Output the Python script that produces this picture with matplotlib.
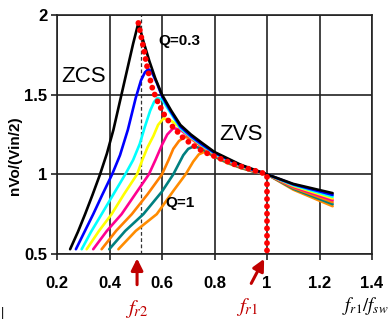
import matplotlib
matplotlib.use("Agg")
import matplotlib.pyplot as plt

plt.rcParams['font.family'] = ['Liberation Sans', 'DejaVu Sans']
plt.rcParams['mathtext.fontset'] = 'stix'

# ---- data ----
q03_x = [0.25,0.28,0.307,0.335,0.364,0.39,0.415,0.44,0.465,0.49,0.51,0.53,0.552,0.575,0.60,0.635,0.67,0.71,0.75,0.80,0.85,0.90,0.95,1.00,1.10,1.25]
q03_y = [0.53,0.64,0.75,0.87,1.00,1.13,1.28,1.46,1.64,1.82,1.95,1.83,1.71,1.60,1.50,1.40,1.31,1.25,1.20,1.14,1.10,1.06,1.03,1.00,0.94,0.882]

q04_x = [0.272,0.305,0.338,0.372,0.41,0.44,0.47,0.50,0.52,0.535,0.548,0.56,0.58,0.60,0.635,0.67,0.71,0.75,0.80,0.85,0.90,0.95,1.00,1.10,1.25]
q04_y = [0.53,0.64,0.75,0.87,1.00,1.12,1.28,1.48,1.59,1.64,1.66,1.645,1.575,1.49,1.39,1.30,1.24,1.19,1.135,1.095,1.057,1.027,1.00,0.937,0.871]

q05_x = [0.294,0.33,0.37,0.415,0.46,0.49,0.515,0.535,0.555,0.57,0.583,0.60,0.635,0.67,0.71,0.75,0.80,0.85,0.90,0.95,1.00,1.10,1.25]
q05_y = [0.53,0.64,0.75,0.875,1.00,1.09,1.19,1.30,1.40,1.455,1.48,1.47,1.38,1.29,1.235,1.185,1.13,1.09,1.054,1.025,1.00,0.933,0.86]

q06_x = [0.313,0.36,0.408,0.455,0.505,0.525,0.545,0.567,0.585,0.605,0.625,0.65,0.68,0.71,0.75,0.80,0.85,0.90,0.95,1.00,1.10,1.25]
q06_y = [0.53,0.645,0.75,0.875,1.00,1.09,1.17,1.24,1.31,1.35,1.345,1.32,1.275,1.232,1.182,1.128,1.087,1.051,1.023,1.00,0.928,0.849]

q07_x = [0.338,0.39,0.446,0.50,0.55,0.575,0.60,0.62,0.643,0.67,0.71,0.75,0.80,0.85,0.90,0.95,1.00,1.10,1.25]
q07_y = [0.53,0.645,0.75,0.88,1.00,1.09,1.185,1.25,1.29,1.28,1.228,1.178,1.124,1.084,1.049,1.021,1.00,0.922,0.838]

q08_x = [0.37,0.425,0.485,0.545,0.60,0.625,0.643,0.665,0.688,0.71,0.75,0.80,0.85,0.90,0.95,1.00,1.10,1.25]
q08_y = [0.53,0.645,0.75,0.875,1.00,1.09,1.16,1.21,1.235,1.225,1.174,1.12,1.08,1.046,1.02,1.00,0.916,0.826]

q09_x = [0.399,0.46,0.529,0.60,0.643,0.681,0.70,0.72,0.75,0.80,0.85,0.90,0.95,1.00,1.10,1.25]
q09_y = [0.53,0.645,0.75,0.892,1.00,1.12,1.16,1.175,1.163,1.113,1.074,1.042,1.017,1.00,0.91,0.813]

q10_x = [0.434,0.50,0.58,0.60,0.645,0.69,0.719,0.74,0.764,0.80,0.85,0.90,0.95,1.00,1.10,1.25]
q10_y = [0.53,0.645,0.75,0.796,0.90,1.00,1.08,1.125,1.143,1.11,1.07,1.04,1.016,1.00,0.904,0.80]

curve_colors = ['#000000', '#0000FF', '#00FFFF', '#FFFF00', '#FF0090', '#FF8000', '#008080', '#FF8C00']

peak_x = [0.51,0.53,0.545,0.565,0.585,0.61,0.64,0.68,0.72,0.76,0.82,0.88,0.94,1.00,1.00]
peak_y = [1.95,1.79,1.66,1.53,1.45,1.37,1.30,1.23,1.18,1.14,1.10,1.06,1.03,1.00,0.50]

fr2_x = 0.52
fr2_tick = 0.505
fr1_x = 1.0

x_ticks = [0.2, 0.4, 0.6, 0.8, 1.0, 1.2, 1.4]
x_tick_labels = ['0.2', '0.4', '0.6', '0.8', '1', '1.2', '1.4']
y_ticks = [0.5, 1.0, 1.5, 2.0]
y_tick_labels = ['0.5', '1', '1.5', '2']

# ---- figure ----
fig = plt.figure(figsize=(3.88, 3.20), dpi=100)
ax = fig.add_axes([57/388, 1-254/320, (372-57)/388, (254-15)/320])
ax.set_xlim(0.2, 1.4)
ax.set_ylim(0.5, 2.0)

ax.set_xticks(x_ticks)
ax.set_xticklabels(x_tick_labels, fontsize=12, fontweight='bold')
ax.set_yticks(y_ticks)
ax.set_yticklabels(y_tick_labels, fontsize=12, fontweight='bold')
ax.tick_params(axis='x', length=4, width=1.2, pad=12, color='#222222')
ax.tick_params(axis='y', length=4, width=1.2, pad=3, color='#222222')
ax.grid(True, color='#222222', linewidth=1.2)
for s in ax.spines.values():
    s.set_color('#222222')
    s.set_linewidth(1.2)
ax.set_axisbelow(True)

ax.set_ylabel('nVo/(Vin/2)', fontsize=11, fontweight='bold')
ax.yaxis.set_label_coords(-0.11, 0.41)

# dashed line at fr2
ax.plot([fr2_x, fr2_x], [0.5, 2.0], color='#333333', lw=0.9, ls=(0, (3, 2)), zorder=2)

series = [(q03_x, q03_y), (q04_x, q04_y), (q05_x, q05_y), (q06_x, q06_y),
          (q07_x, q07_y), (q08_x, q08_y), (q09_x, q09_y), (q10_x, q10_y)]
for (xs, ys), c in zip(series[::-1], curve_colors[::-1]):
    ax.plot(xs, ys, color=c, lw=1.9, solid_joinstyle='round', solid_capstyle='round', zorder=3)

# peak locus (red dots)
ax.plot(peak_x, peak_y, color='#FF0000', lw=4.2, ls=(0, (0.01, 1.25)),
        dash_capstyle='round', zorder=5, clip_on=False)

# annotations
ax.text(0.218, 1.613, 'ZCS', fontsize=16, va='center', ha='left')
ax.text(0.818, 1.252, 'ZVS', fontsize=16, va='center', ha='left')
ax.text(0.585, 1.837, 'Q=0.3', fontsize=11, fontweight='bold', va='center', ha='left')
ax.text(0.614, 0.82, 'Q=1', fontsize=11, fontweight='bold', va='center', ha='left')

dark_red = '#C00000'
ax.annotate('', xy=(fr2_tick, 0.49), xytext=(fr2_tick, 0.29),
            arrowprops=dict(arrowstyle='-|>,head_width=0.35,head_length=0.7', color=dark_red, lw=2.2),
            annotation_clip=False)
ax.annotate('', xy=(fr1_x - 0.006, 0.485), xytext=(0.935, 0.30),
            arrowprops=dict(arrowstyle='-|>,head_width=0.35,head_length=0.7', color=dark_red, lw=2.2),
            annotation_clip=False)
ax.text(fr2_tick, 0.155, r'$f_{r\mathit{2}}$', fontsize=15, color=dark_red,
        ha='center', va='center', clip_on=False)
ax.text(0.924, 0.165, r'$f_{r\mathit{1}}$', fontsize=15, color=dark_red,
        ha='center', va='center', clip_on=False)
ax.text(1.373, 0.172, r'$f_{r\mathit{1}}/f_{sw}$', fontsize=13.5, color='black',
        ha='center', va='center', clip_on=False)

fig.text(3/388, 1-313/320, '|', fontsize=9, ha='center', va='center')

fig.savefig('out.png', dpi=100)
